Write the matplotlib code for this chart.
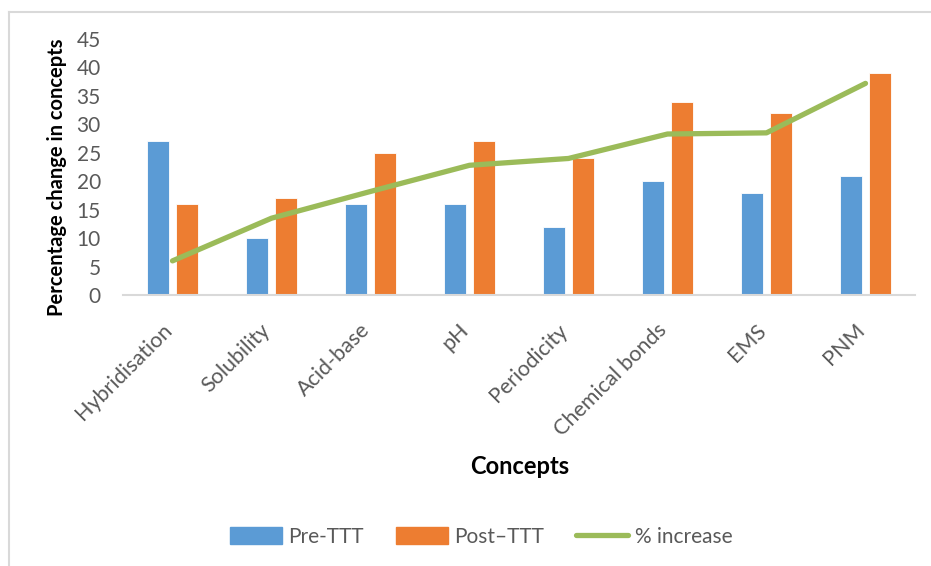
import matplotlib.pyplot as plt
import matplotlib.transforms as mtransforms
import numpy as np
from matplotlib.lines import Line2D

concepts = ["Hybridisation", "Solubility", "Acid-base", "pH", "Periodicity",
            "Chemical bonds", "EMS", "PNM"]
pre_ttt = [27, 10, 16, 16, 12, 20, 18, 21]
post_ttt = [16, 17, 25, 27, 24, 34, 32, 39]
pct_increase = [6, 13.5, 18.2, 22.8, 24.0, 28.3, 28.5, 37.2]
y_ticks = [0, 5, 10, 15, 20, 25, 30, 35, 40, 45]

BLUE = "#5B9BD5"
ORANGE = "#ED7D31"
GREEN = "#9BBB59"
GRAY = "#595959"

plt.rcParams["font.family"] = ["Lato", "DejaVu Sans"]

fig = plt.figure(figsize=(9.31, 5.66), dpi=100)
ax = fig.add_axes([123 / 931, 271 / 566, 792 / 931, 256 / 566])

x = np.arange(len(concepts))
w = 0.22
ax.bar(x - 0.145, pre_ttt, w, color=BLUE, edgecolor="white", linewidth=0.6, label="Pre-TTT")
ax.bar(x + 0.145, post_ttt, w, color=ORANGE, edgecolor="white", linewidth=0.6, label="Post\u2013TTT")
ax.plot(x, pct_increase, color=GREEN, linewidth=3.8, solid_capstyle="round", label="% increase")

ax.set_xlim(-0.5, len(concepts) - 0.5)
ax.set_ylim(0, 45)
ax.set_yticks(y_ticks)
ax.tick_params(axis="y", length=0, labelsize=15, labelcolor=GRAY, pad=16)
ax.tick_params(axis="x", length=0, labelsize=15.5, labelcolor=GRAY, pad=16)
ax.set_xticks(x)
ax.set_xticklabels(concepts, rotation=45, ha="right", rotation_mode="anchor")

# nudge the slanted labels so their ends sit under the category centres
shift = mtransforms.ScaledTranslation(-8 / 72, -2 / 72, fig.dpi_scale_trans)
for lbl in ax.get_xticklabels():
    lbl.set_transform(lbl.get_transform() + shift)

for side in ["top", "right", "left"]:
    ax.spines[side].set_visible(False)
ax.spines["bottom"].set_color("#D9D9D9")
ax.spines["bottom"].set_linewidth(1.5)

ax.set_ylabel("Percentage change in concepts", fontsize=14.5, fontweight="bold")
ax.yaxis.set_label_coords(-0.071, 0.46)
fig.text(520 / 931, 1 - 466 / 566, "Concepts", fontsize=17, fontweight="bold",
         ha="center", va="center")

handles = [
    plt.Rectangle((0, 0), 1, 1, color=BLUE),
    plt.Rectangle((0, 0), 1, 1, color=ORANGE),
    Line2D([0], [0], color=GREEN, linewidth=3.8, solid_capstyle="round"),
]
fig.legend(handles, ["Pre-TTT", "Post\u2013TTT", "% increase"], loc="center",
           bbox_to_anchor=(481 / 931, 1 - 537 / 566), ncol=3, frameon=False,
           fontsize=15, labelcolor=GRAY, handlelength=2.5, handleheight=0.85,
           handletextpad=0.3, columnspacing=1.55)

# chart frame (left and top edges)
fig.add_artist(Line2D([8.5 / 931, 8.5 / 931], [0, 1 - 11.5 / 566], color="#D9D9D9", linewidth=1.5))
fig.add_artist(Line2D([8.5 / 931, 1], [1 - 11.5 / 566, 1 - 11.5 / 566], color="#D9D9D9", linewidth=1.5))

fig.savefig("out.png", dpi=100)
